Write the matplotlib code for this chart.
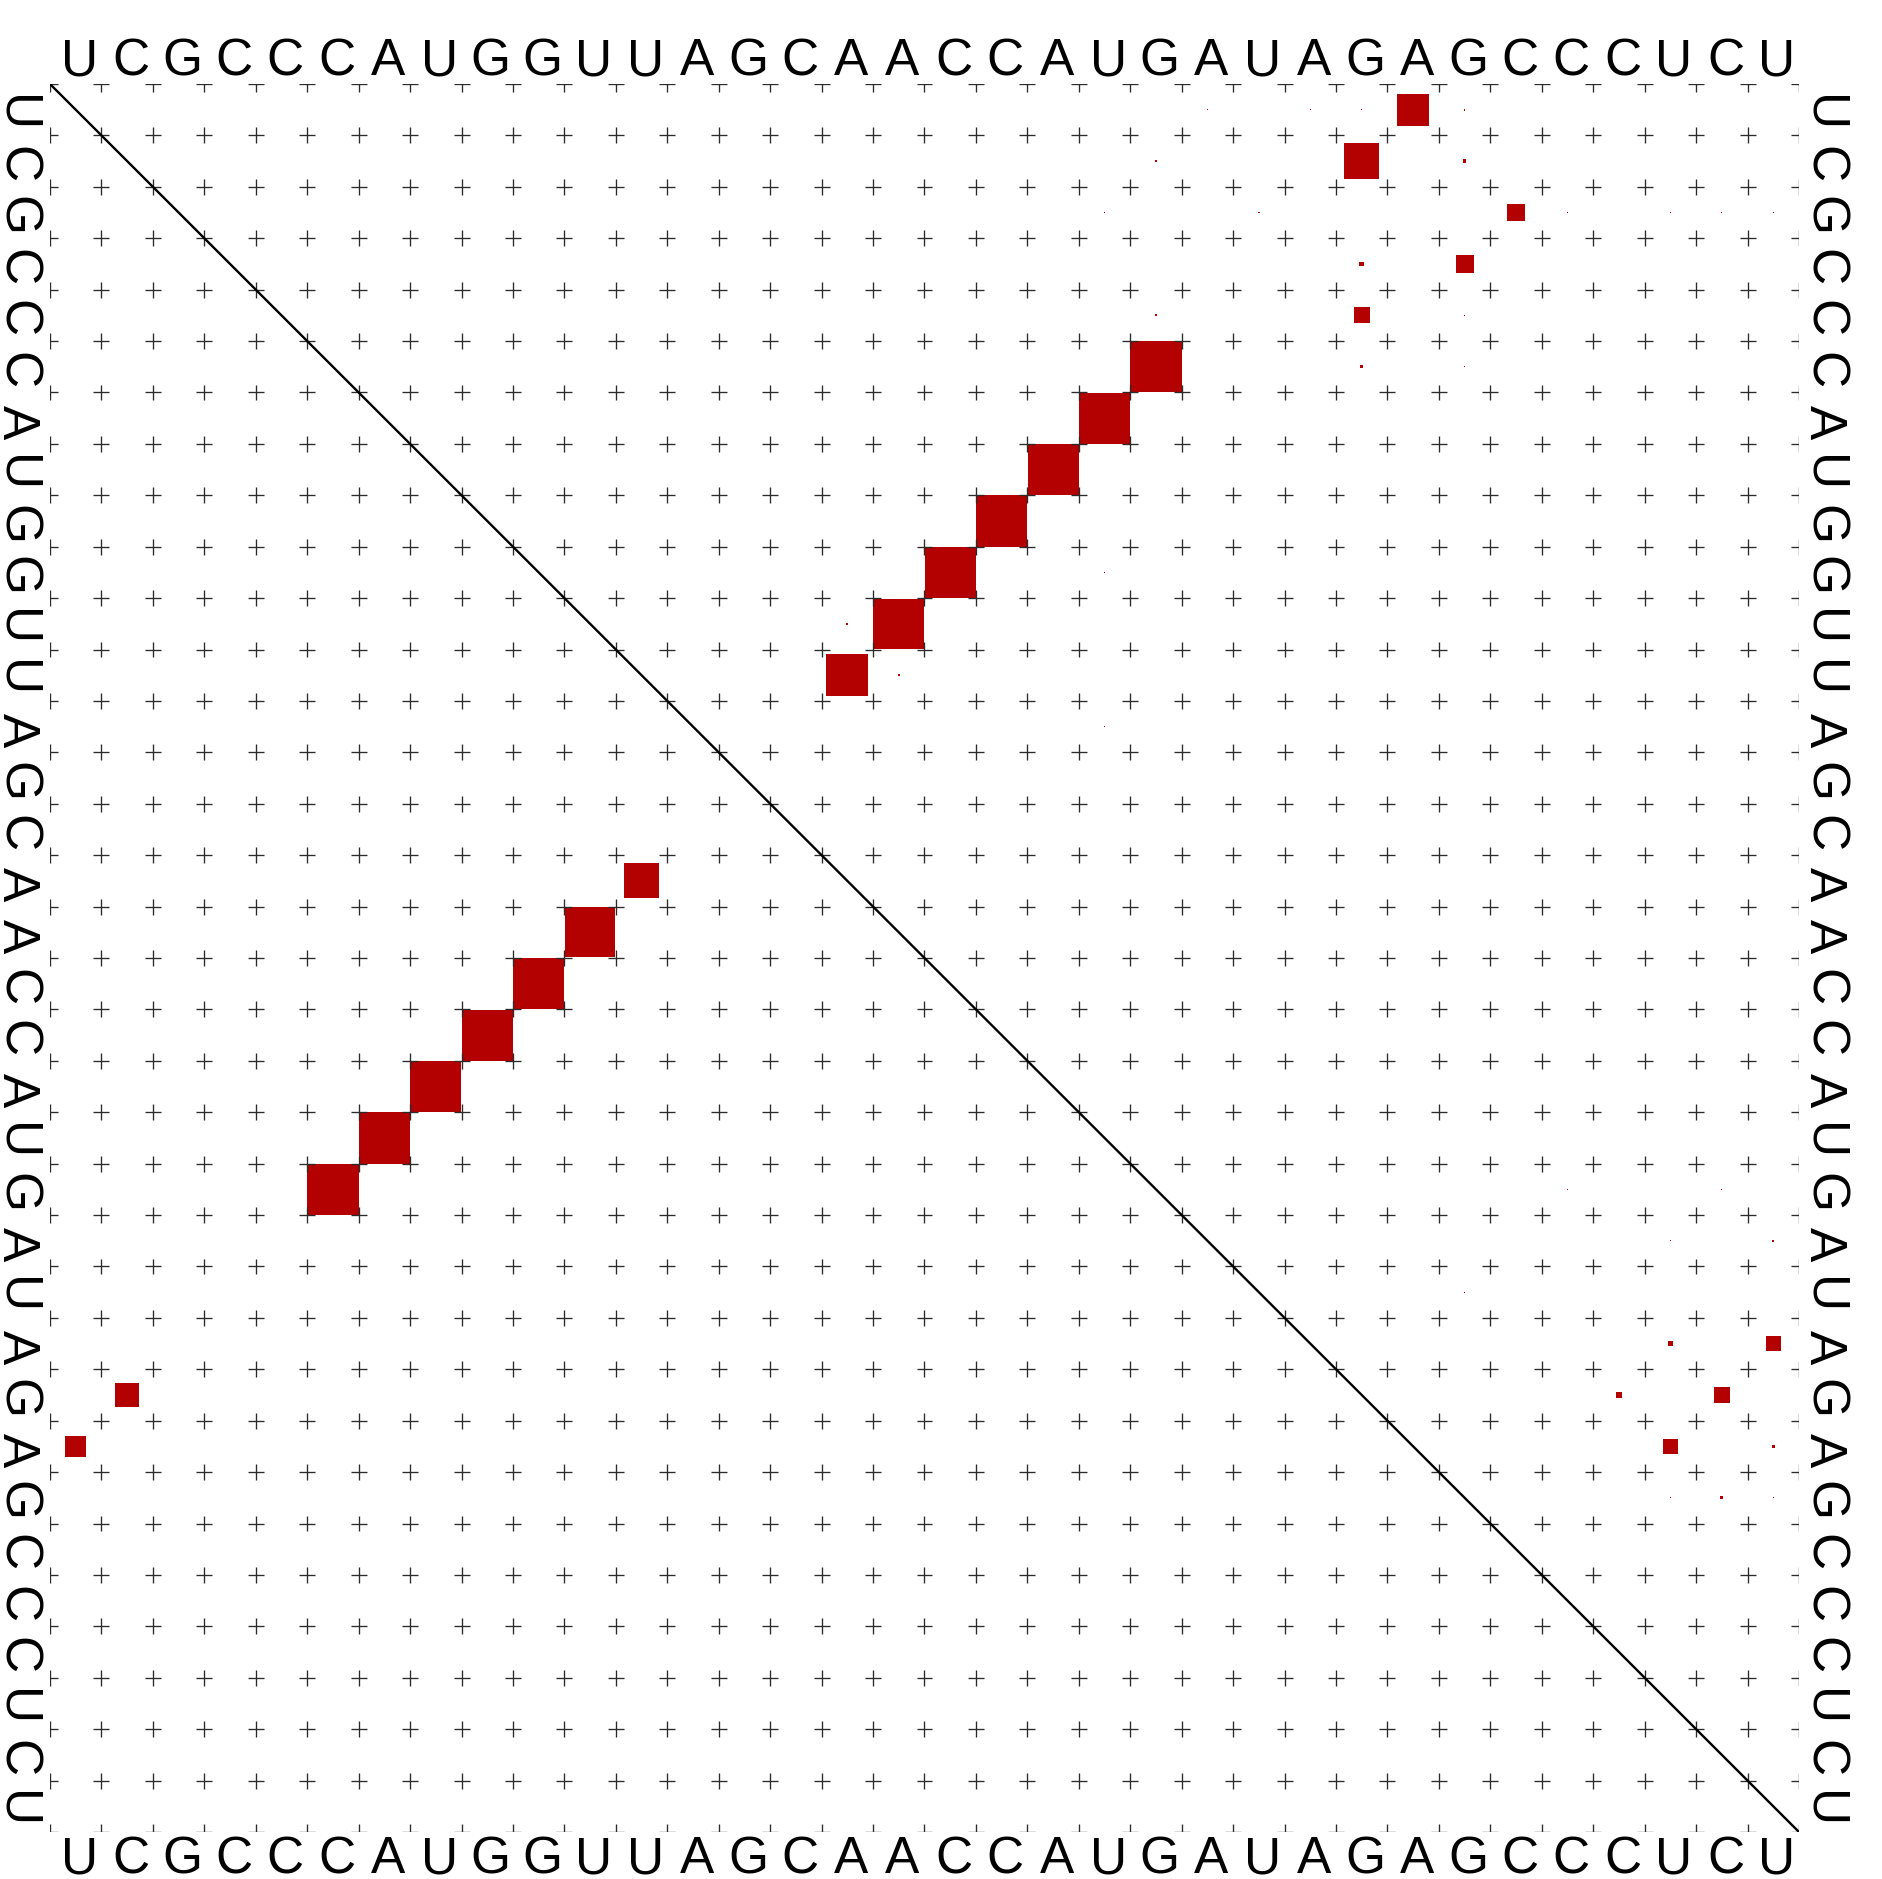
import matplotlib.pyplot as plt
import numpy as np
from matplotlib.patches import Rectangle
from matplotlib.collections import LineCollection

plt.rcParams['font.family'] = ['Liberation Sans', 'DejaVu Sans']

sequence = "UCGCCCAUGGUUAGCAACCAUGAUAGAGCCCUCU"

# upper triangle: base pair probabilities (i, j, p)
up_i = [6, 7, 8, 9, 10, 11, 12,
        1, 2, 3, 4, 5, 4, 2, 6, 1, 1, 1, 1, 2, 3, 3, 4, 5, 3, 5, 6, 3, 3, 3, 3,
        11, 12, 9, 9, 10, 10, 11, 12, 13,
        25, 26, 27, 25, 26, 27, 28, 23, 23, 26, 26, 26, 28, 28, 22, 22, 22, 22, 24]
up_j = [22, 21, 20, 19, 18, 17, 16,
        27, 26, 29, 28, 26, 26, 28, 26, 28, 26, 25, 23, 22, 21, 24, 22, 22, 30, 28, 28, 31, 32, 33, 34,
        16, 17, 15, 18, 15, 21, 20, 22, 21,
        34, 33, 32, 32, 31, 34, 33, 34, 32, 32, 30, 34, 32, 34, 29, 30, 31, 33, 28]
up_p = [0.99, 0.99, 0.99, 0.99, 0.99, 0.97, 0.667,
        0.39, 0.47, 0.12, 0.125, 0.10, 0.008, 0.0046, 0.003, 0.001, 0.0006, 0.0005, 0.0008,
        0.0007, 0.0003, 0.0012, 0.0003, 0.0015, 0.001, 0.001, 0.0004, 0.0003, 0.0003, 0.0003, 0.0003,
        0.0015, 0.0015, 0.0002, 0.0002, 0.0002, 0.0002, 0.0002, 0.0002, 0.0002,
        0.08, 0.097, 0.085, 0.012, 0.013, 0.004, 0.003, 0.001, 0.0005, 0.0003, 0.0003, 0.0003,
        0.0003, 0.0003, 0.0002, 0.0002, 0.0003, 0.0006, 0.0003]

# lower triangle (i, j, p)
lo_i = [1, 2, 6, 7, 8, 9, 10, 11, 12]
lo_j = [27, 26, 22, 21, 20, 19, 18, 17, 16]
lo_p = [0.167, 0.21, 0.99, 0.99, 0.99, 0.99, 0.99, 0.96, 0.46]

n = len(sequence)
red = '#b30000'

fig = plt.figure(figsize=(18.83, 18.79), dpi=100)
ax = fig.add_axes([50 / 1883, 47 / 1879, 1749 / 1883, 1748 / 1879])
ax.set_xlim(0, n)
ax.set_ylim(n, 0)
ax.axis('off')

# crosses at every grid point
segs = []
arm = 0.155
for a in range(n + 1):
    for b in range(n + 1):
        segs.append([(a - arm, b), (a + arm, b)])
        segs.append([(a, b - arm), (a, b + arm)])
ax.add_collection(LineCollection(segs, colors='#2a2a2a', linewidths=0.95, clip_on=True))

# diagonal
ax.plot([0, n], [0, n], color='black', linewidth=1.7)

for i, j, p in zip(up_i, up_j, up_p):
    s = np.sqrt(p)
    ax.add_patch(Rectangle((j - 0.5 - s / 2, i - 0.5 - s / 2), s, s, color=red, lw=0))

for i, j, p in zip(lo_i, lo_j, lo_p):
    s = np.sqrt(p)
    ax.add_patch(Rectangle((i - 0.5 - s / 2, j - 0.5 - s / 2), s, s, color=red, lw=0))

fs = 37
for k, ch in enumerate(sequence):
    c = k + 0.57
    ax.text(c, -0.175, ch, ha='center', va='baseline', fontsize=fs, clip_on=False)
    ax.text(c, n + 0.8, ch, ha='center', va='baseline', fontsize=fs, clip_on=False)
    ax.text(-0.914, c, ch, ha='center', va='baseline', rotation=-90,
            rotation_mode='anchor', fontsize=fs, clip_on=False)
    ax.text(n + 0.21, c, ch, ha='center', va='baseline', rotation=-90,
            rotation_mode='anchor', fontsize=fs, clip_on=False)

fig.savefig('out.png', dpi=100, facecolor='white')
